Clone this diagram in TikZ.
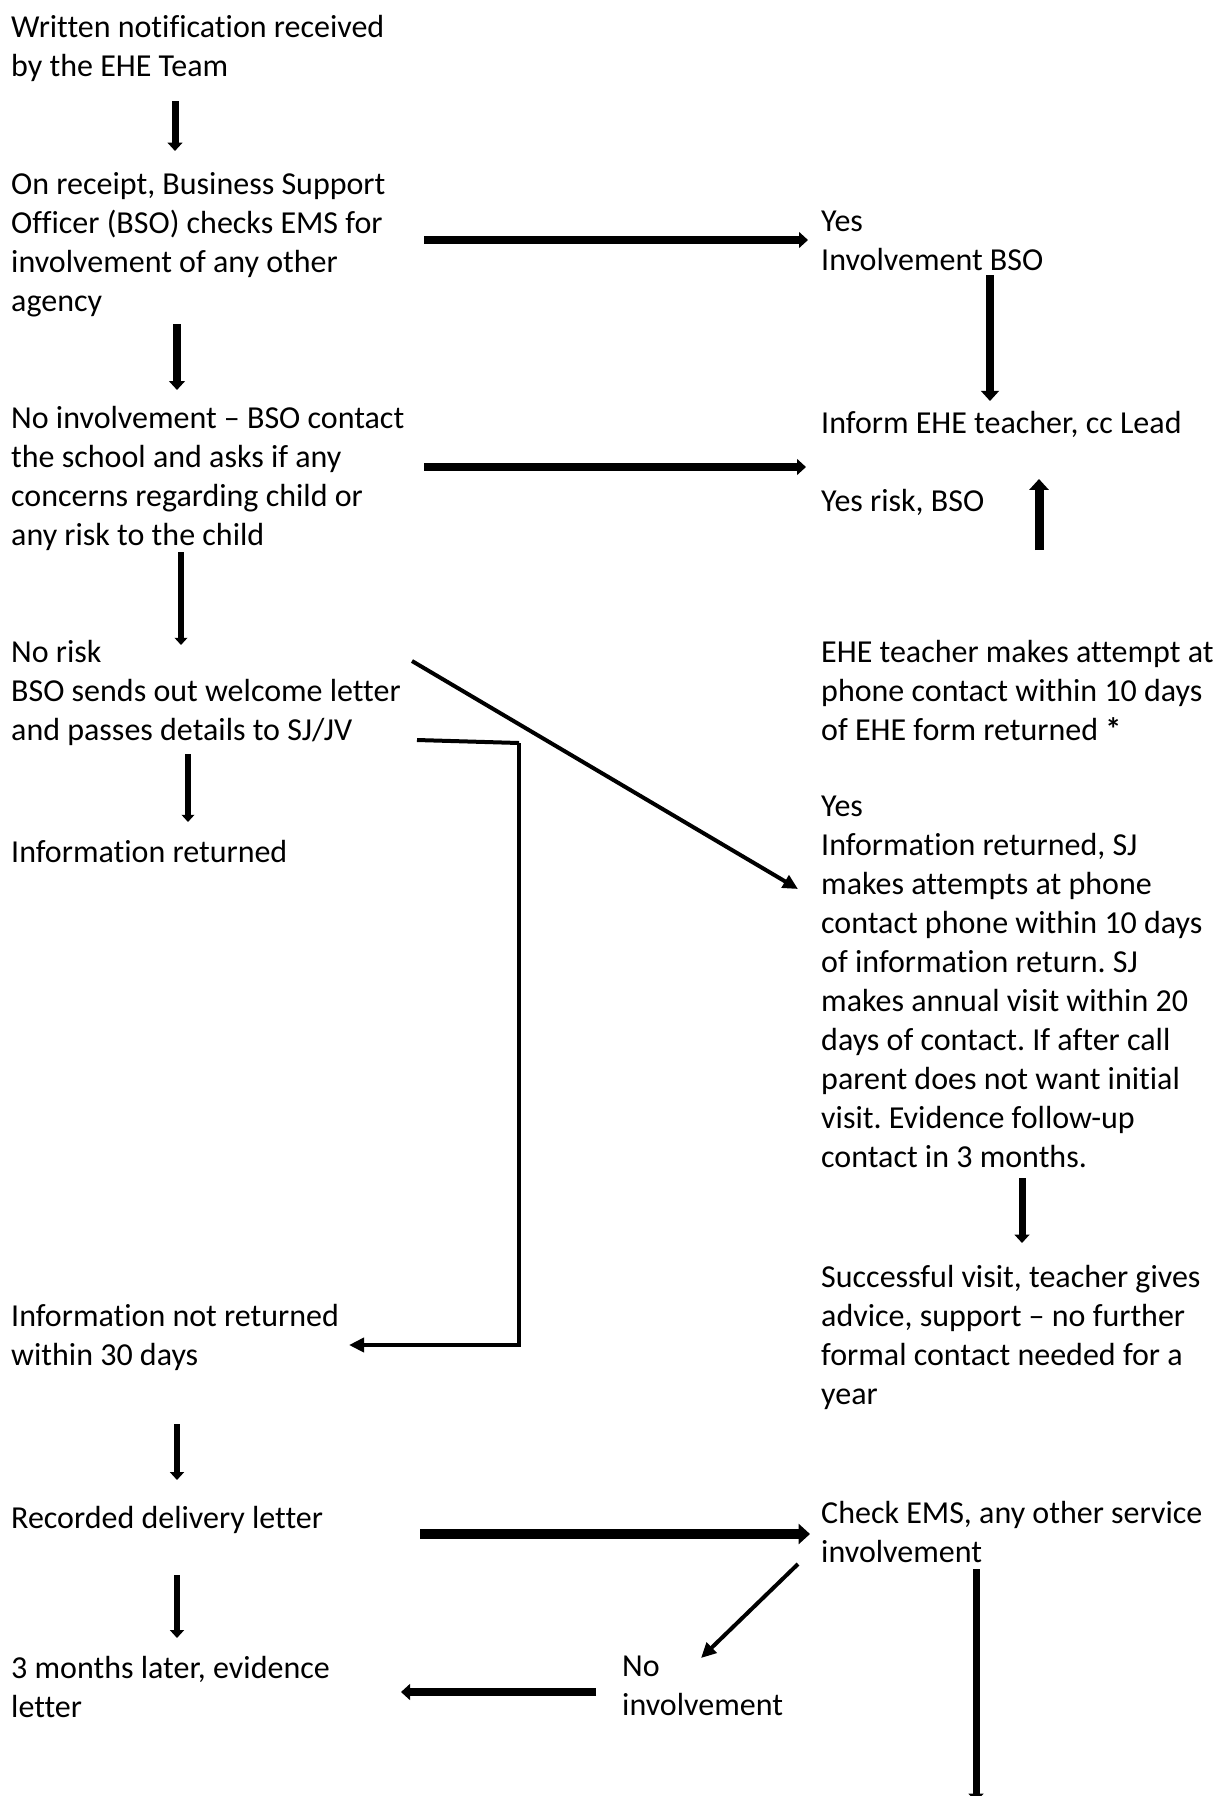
\documentclass[tikz,border=0pt]{standalone}
\usepackage{fontspec}
\setmainfont{Carlito}[Ligatures={TeX,NoCommon}]
\usetikzlibrary{arrows.meta}
\newcommand\flowfont{\fontsize{32}{39}\selectfont\frenchspacing}
\tikzset{flowtext/.style={anchor=north west, inner sep=0pt, align=left, font=\flowfont, execute at begin node=\strut}}
\tikzset{arr/.style={draw, line width=#1, -{Triangle[length=0pt 1.2, width=0pt 2.1]}}, arr/.default=7.5pt}
\tikzset{arr1/.style={draw, line width=#1, -{Triangle[length=15pt, width=14pt]}}, arr1/.default=4pt}
\tikzset{link/.style={draw, line width=4pt}}

\begin{document}
\begin{tikzpicture}[x=1pt, y=-1pt]
	\useasboundingbox (0,0) rectangle (1221,1796);

	% left column
	\node[flowtext] (notif) at (11, 15) {Written notification received\\by the EHE Team};
	\node[flowtext] (receipt) at (11, 172) {On receipt, Business Support\\Officer (BSO) checks EMS for\\involvement of any other\\agency};
	\node[flowtext] (noinv) at (11, 406) {No involvement -- BSO contact\\the school and asks if any\\concerns regarding child or\\any risk to the child};
	\node[flowtext] (norisk) at (11, 640) {No risk\\BSO sends out welcome letter\\and passes details to SJ/JV};
	\node[flowtext] (infret) at (11, 835) {Information returned};
	\node[flowtext] (notret) at (11, 1304) {Information not returned\\within 30 days};
	\node[flowtext] (recdel) at (11, 1501) {Recorded delivery letter};
	\node[flowtext] (later) at (11, 1656) {3 months later, evidence\\letter};

	% right column
	\node[flowtext] (yesinv) at (821, 211) {Yes\\Involvement BSO};
	\node[flowtext] (inform) at (821, 406) {Inform EHE teacher, cc Lead};
	\node[flowtext] (yesrisk) at (821, 484) {Yes risk, BSO};
	\node[flowtext] (attempt) at (821, 640) {EHE teacher makes attempt at\\phone contact within 10 days\\of EHE form returned \textbf{*}};
	\node[flowtext] (yesret) at (821, 796) {Yes\\Information returned, SJ\\makes attempts at phone\\contact phone within 10 days\\of information return. SJ\\makes annual visit within 20\\days of contact. If after call\\parent does not want initial\\visit. Evidence follow-up\\contact in 3 months.};
	\node[flowtext] (success) at (821, 1265) {Successful visit, teacher gives\\advice, support -- no further\\formal contact needed for a\\year};
	\node[flowtext] (check) at (821, 1501) {Check EMS, any other service\\involvement};
	\node[flowtext] (noinv2) at (622, 1656) {No\\involvement};

	% arrow ends
	\coordinate (a1) at (175, 101);  \coordinate (b1) at (175, 151);
	\coordinate (a2) at (177, 324);  \coordinate (b2) at (177, 390);
	\coordinate (a3) at (181, 552);  \coordinate (b3) at (181, 645);
	\coordinate (a4) at (188, 754);  \coordinate (b4) at (188, 822);
	\coordinate (a5) at (177, 1424); \coordinate (b5) at (177, 1480);
	\coordinate (a6) at (177, 1575); \coordinate (b6) at (177, 1638);
	\coordinate (h1) at (424, 240);  \coordinate (k1) at (808, 240);
	\coordinate (h2) at (424, 467);  \coordinate (k2) at (806, 467);
	\coordinate (h3) at (420, 1534); \coordinate (k3) at (810, 1534);
	\coordinate (h4) at (596, 1692); \coordinate (k4) at (401, 1692);
	\coordinate (r1) at (990, 275);  \coordinate (s1) at (990, 401);
	\coordinate (r2) at (1039, 550); \coordinate (s2) at (1039, 479);
	\coordinate (r3) at (1022, 1178); \coordinate (s3) at (1022, 1243);
	\coordinate (r4) at (976, 1569); \coordinate (s4) at (976, 1802);
	\coordinate (d1) at (412, 661);  \coordinate (e1) at (798, 889);
	\coordinate (d2) at (798, 1564); \coordinate (e2) at (701, 1658);
	\coordinate (c0) at (417, 740);  \coordinate (c1) at (519, 743);
	\coordinate (c2) at (519, 1345); \coordinate (c3) at (349, 1345);

	\draw[arr=7pt] (a1) -- (b1);
	\draw[arr=7.5pt] (a2) -- (b2);
	\draw[arr=6pt] (a3) -- (b3);
	\draw[arr=6pt] (a4) -- (b4);
	\draw[arr=6.5pt] (a5) -- (b5);
	\draw[arr=6.5pt] (a6) -- (b6);
	\draw[arr] (h1) -- (k1);
	\draw[arr] (h2) -- (k2);
	\draw[arr=9.5pt] (h3) -- (k3);
	\draw[arr=7.5pt] (h4) -- (k4);
	\draw[arr=8.5pt] (r1) -- (s1);
	\draw[arr=9pt] (r2) -- (s2);
	\draw[arr=7pt] (r3) -- (s3);
	\draw[arr=7pt] (r4) -- (s4);
	\draw[arr1] (d1) -- (e1);
	\draw[arr1] (d2) -- (e2);
	\draw[link] (c0) -- (c1);
	\draw[arr1=4pt] (c1) -- (c2) -- (c3);
\end{tikzpicture}
\end{document}
